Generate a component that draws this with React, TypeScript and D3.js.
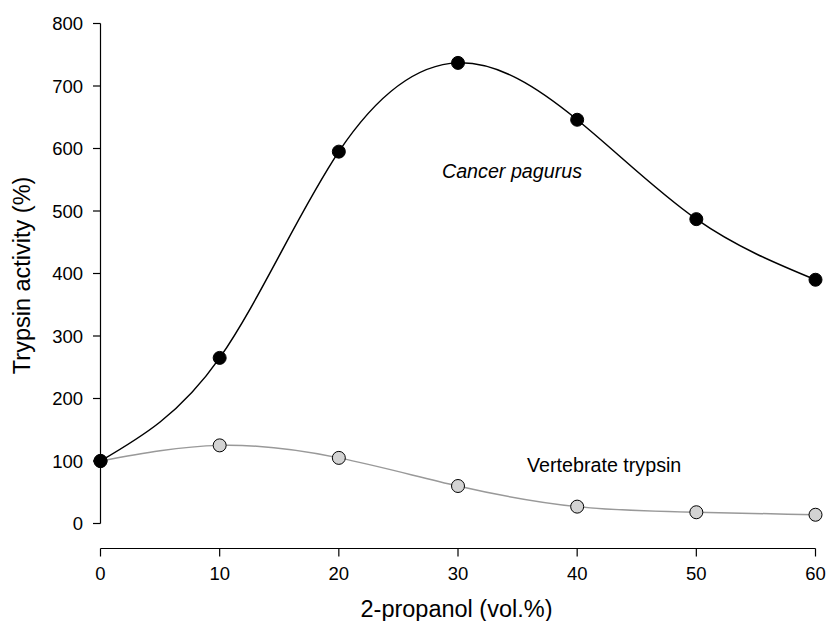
import React from 'react';
import * as d3 from 'd3';

const propanol = [0, 10, 20, 30, 40, 50, 60];
const cancerPagurus = [100, 265, 595, 737, 646, 487, 390];
const vertebrateTrypsin = [100, 125, 105, 60, 27, 18, 14];
const yTicks = [0, 100, 200, 300, 400, 500, 600, 700, 800];
const xTicks = [0, 10, 20, 30, 40, 50, 60];

const W = 827;
const H = 621;
const font = "'Liberation Sans', Arial, sans-serif";

export default function App() {
  const x = d3.scaleLinear().domain([0, 60]).range([100.5, 815.5]);
  const y = d3.scaleLinear().domain([0, 800]).range([523.5, 23.5]);
  const xAxisY = 548.5;

  const line = d3
    .line<number>()
    .x((_, i) => x(propanol[i]))
    .y(d => y(d))
    .curve(d3.curveNatural);

  return (
    <svg width={W} height={H} style={{ position: 'absolute', left: 0, top: 0 }} fontFamily={font}>
      <rect width={W} height={H} fill="#fff" />

      {/* y axis */}
      <line x1={100.5} x2={100.5} y1={y(800)} y2={y(0)} stroke="#000" strokeWidth={1.2} />
      {yTicks.map(t => (
        <g key={t}>
          <line x1={93} x2={100.5} y1={y(t)} y2={y(t)} stroke="#000" strokeWidth={1.2} />
          <text x={83} y={y(t)} dy="0.36em" textAnchor="end" fontSize={18.5}>
            {t}
          </text>
        </g>
      ))}
      <text
        transform={`translate(30,${y(397)}) rotate(-90)`}
        textAnchor="middle"
        fontSize={23.5}
      >
        Trypsin activity (%)
      </text>

      {/* x axis */}
      <line x1={x(0)} x2={x(60)} y1={xAxisY} y2={xAxisY} stroke="#000" strokeWidth={1.2} />
      {xTicks.map(t => (
        <g key={t}>
          <line x1={x(t)} x2={x(t)} y1={xAxisY} y2={xAxisY + 8} stroke="#000" strokeWidth={1.2} />
          <text x={x(t)} y={580} textAnchor="middle" fontSize={18.5}>
            {t}
          </text>
        </g>
      ))}
      <text x={456.5} y={617} textAnchor="middle" fontSize={23.5}>
        2-propanol (vol.%)
      </text>

      {/* series */}
      <path d={line(vertebrateTrypsin) ?? ''} fill="none" stroke="#999" strokeWidth={1.5} />
      <path d={line(cancerPagurus) ?? ''} fill="none" stroke="#000" strokeWidth={1.5} />

      {vertebrateTrypsin.map((v, i) => (
        <circle key={'v' + i} cx={x(propanol[i])} cy={y(v)} r={6.5} fill="#d3d3d3" stroke="#000" strokeWidth={1} />
      ))}
      {cancerPagurus.map((v, i) => (
        <circle key={'c' + i} cx={x(propanol[i])} cy={y(v)} r={6.5} fill="#000" stroke="#000" strokeWidth={1} />
      ))}

      <text x={512} y={178} textAnchor="middle" fontSize={19.7} fontStyle="italic">
        Cancer pagurus
      </text>
      <text x={527} y={471.5} fontSize={19.7}>
        Vertebrate trypsin
      </text>
    </svg>
  );
}
